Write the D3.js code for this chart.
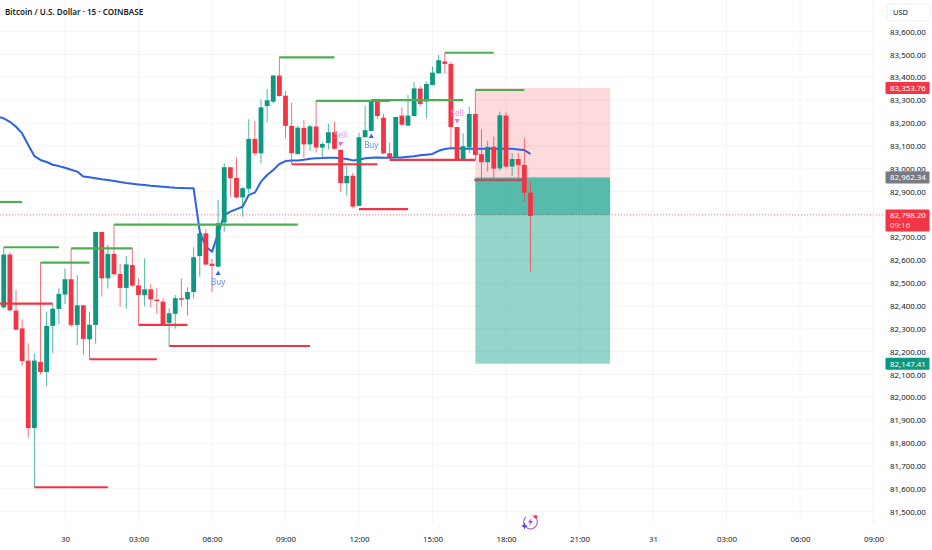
<!DOCTYPE html>
<html>
<head>
<meta charset="utf-8">
<script src="https://cdn.jsdelivr.net/npm/d3@7"></script>
<style>
  html, body { margin: 0; padding: 0; background: #fff; overflow: hidden; }
  svg { display: block; }
  text { font-family: "Noto Sans", sans-serif; fill: #131722; }
</style>
</head>
<body>
<svg id="chart"></svg>
<script>
// velas de 15 minutos, una entrada por barra (precios)
const opens = [82394,82625,82380,82302,82161,81866,82155,82111,82313,82387,82450,82517,82317,82403,82254,82317,82724,82521,82628,82540,82479,82579,82490,82447,82473,82428,82419,82326,82366,82434,82429,82461,82619,82718,82585,82572,82765,83007,82960,82875,82913,83131,83068,83275,83294,83408,83320,83188,83065,83179,83107,83185,83093,83113,83160,83083,82937,82970,82838,83138,83166,83293,83224,83068,83050,83233,83189,83231,83351,83295,83367,83418,83470,83459,83183,83039,83094,83240,83064,83029,83097,83002,83233,83010,83043,83017,82896];
const highs = [82657,82635,82470,82342,82237,82191,82590,82375,82409,82477,82563,82652,82534,82403,82374,82724,82724,82667,82756,82584,82619,82652,82520,82609,82496,82479,82434,82390,82448,82521,82482,82657,82740,82735,82606,82864,83024,83007,83049,82922,83217,83209,83304,83349,83411,83488,83341,83290,83188,83214,83192,83297,83119,83196,83206,83083,83013,82983,83158,83276,83301,83298,83240,83115,83227,83269,83323,83379,83360,83381,83447,83498,83508,83468,83183,83155,83272,83345,83173,83123,83141,83250,83246,83068,83068,83134,82944];
const lows = [82388,82375,82296,82139,81824,81607,82100,82050,82193,82321,82409,82308,82229,82187,82167,82235,82441,82476,82533,82397,82387,82485,82317,82399,82393,82365,82317,82225,82301,82397,82358,82432,82528,82581,82460,82572,82725,82878,82871,82791,82893,83058,83024,83204,83287,83316,83134,83021,83061,83046,83078,83072,83050,83085,83083,82900,82883,82827,82835,83138,83163,83217,83064,83042,83050,83188,83189,83231,83275,83221,83367,83415,83418,83090,83039,83039,83068,83039,82959,82988,82959,82992,83007,82969,82959,82856,82550];
const closes = [82625,82381,82296,82159,81866,82161,82111,82313,82388,82453,82517,82317,82403,82256,82318,82724,82521,82628,82539,82479,82582,82489,82448,82473,82429,82422,82317,82368,82434,82429,82461,82613,82718,82581,82575,82762,83007,82959,82875,82915,83131,83068,83269,83300,83408,83319,83188,83068,83180,83107,83186,83093,83109,83160,83088,82938,82969,82835,83138,83169,83297,83231,83068,83046,83227,83193,83233,83352,83284,83371,83421,83475,83459,83183,83039,83099,83240,83061,83029,83096,83001,83234,83010,83043,83017,82896,82794];

// linea azul (VWAP), parte en la barra -1
const vwap = [83228,83221,83206,83184,83155,83104,83056,83039,83030,83018,83012,83005,82996,82988,82966,82963,82959,82954,82951,82947,82942,82938,82935,82932,82929,82926,82924,82922,82919,82917,82916,82915,82915,82725,82659,82637,82718,82798,82813,82824,82834,82886,82896,82944,82973,82995,83021,83034,83036,83037,83040,83044,83046,83047,83049,83049,83046,83043,83037,83040,83046,83049,83050,83049,83049,83050,83050,83053,83055,83059,83062,83065,83079,83087,83090,83090,83088,83088,83088,83088,83088,83088,83088,83088,83088,83085,83082,83065];

// niveles horizontales: barra inicial, barra final, precio
const highLevelStart = [-2,0,6,11,18,45,51,60,72,77];
const highLevelEnd = [3,9,14,21,48,54,63,75,80,85];
const highLevelPrice = [82855,82657,82590,82652,82756,83488,83297,83301,83508,83345];
const lowLevelStart = [-2,5,14,22,27,47,58,63];
const lowLevelEnd = [8,17,25,30,50,61,66,77];
const lowLevelPrice = [82410,81607,82167,82317,82225,83020,82824,83039];

// señales
const signalBars = [35,60,55,74];
const signalTypes = ["Buy","Buy","Sell","Sell"];
const signalPrices = [82544,83144,83109,83209];

const priceTicks = [81500,81600,81700,81800,81900,82000,82100,82200,82300,82400,82500,82600,82700,82800,82900,83000,83100,83200,83300,83400,83500,83600];
// la etiqueta del precio actual tapa el 82,800
const priceLabels = priceTicks.filter(d => d != 82800);
const timeTickBars = [10,22,34,46,58,70,82,94,106,118,130,142];
const timeTickLabels = ["30","03:00","06:00","09:00","12:00","15:00","18:00","21:00","31","03:00","06:00","09:00"];

// posicion larga/corta
const positionStartBar = 77, positionEndBar = 99;
const stopPrice = 83353.76, entryPrice = 82962.34, targetPrice = 82147.41, lastPrice = 82798.20;
const stopLine = 82951;

const WIDTH = 932, HEIGHT = 550;
const VERDE = "#089981", ROJO = "#f23645";
const plotRight = 875;

const svg = d3.select("#chart").attr("width", WIDTH).attr("height", HEIGHT);

const x = d3.scaleLinear().domain([0, 142]).range([3.75, 873.5]);
const y = d3.scaleLinear().domain([81500, 83600]).range([511.7, 31.7]);

const defs = svg.append("defs");
defs.append("clipPath").attr("id", "clip")
	.append("rect").attr("width", plotRight).attr("height", 523);
defs.append("filter").attr("id", "suave")
	.append("feGaussianBlur").attr("stdDeviation", 0.35);

// grilla
const grilla = svg.append("g");
grilla.selectAll(".h").data(priceTicks).join("line")
	.attr("x1", 0).attr("x2", plotRight)
	.attr("y1", d => y(d)).attr("y2", d => y(d))
	.attr("stroke", "#f4f4f5");
grilla.selectAll(".v").data(timeTickBars).join("line")
	.attr("x1", d => x(d)).attr("x2", d => x(d))
	.attr("y1", 0).attr("y2", 523)
	.attr("stroke", "#f4f4f5");

const plot = svg.append("g").attr("clip-path", "url(#clip)")
	.append("g").attr("filter", "url(#suave)");

// caja de la posicion
const boxX = x(positionStartBar), boxW = x(positionEndBar) - boxX;
plot.append("rect").attr("x", boxX).attr("width", boxW)
	.attr("y", y(stopPrice)).attr("height", y(entryPrice) - y(stopPrice))
	.attr("fill", ROJO).attr("opacity", 0.19);
plot.append("rect").attr("x", boxX).attr("width", boxW)
	.attr("y", y(entryPrice)).attr("height", y(targetPrice) - y(entryPrice))
	.attr("fill", VERDE).attr("opacity", 0.42);
plot.append("rect").attr("x", boxX).attr("width", boxW)
	.attr("y", y(entryPrice)).attr("height", y(lastPrice) - y(entryPrice))
	.attr("fill", VERDE).attr("opacity", 0.42);

// vwap
const lineaVwap = d3.line().x((_, i) => x(i - 1)).y(d => y(d));
plot.append("path").datum(vwap)
	.attr("d", lineaVwap)
	.attr("fill", "none")
	.attr("stroke", "#2962e8")
	.attr("stroke-width", 2)
	.attr("stroke-linejoin", "round");

// velas
const velas = d3.range(closes.length);
const colorVela = i => closes[i] >= opens[i] ? VERDE : ROJO;
plot.append("g").selectAll("line").data(velas).join("line")
	.attr("x1", i => x(i)).attr("x2", i => x(i))
	.attr("y1", i => y(highs[i])).attr("y2", i => y(lows[i]))
	.attr("stroke", colorVela)
	.attr("stroke-opacity", 0.7)
	.attr("stroke-width", 1);
plot.append("g").selectAll("rect").data(velas).join("rect")
	.attr("x", i => x(i) - 2.4)
	.attr("width", 4.8)
	.attr("y", i => y(Math.max(opens[i], closes[i])))
	.attr("height", i => Math.max(1.5, Math.abs(y(opens[i]) - y(closes[i]))))
	.attr("fill", colorVela);

// niveles
plot.append("g").selectAll("line").data(highLevelPrice).join("line")
	.attr("x1", (_, i) => x(highLevelStart[i])).attr("x2", (_, i) => x(highLevelEnd[i]))
	.attr("y1", d => y(d)).attr("y2", d => y(d))
	.attr("stroke", "#4caf50").attr("stroke-width", 2.2);
plot.append("g").selectAll("line").data(lowLevelPrice).join("line")
	.attr("x1", (_, i) => x(lowLevelStart[i])).attr("x2", (_, i) => x(lowLevelEnd[i]))
	.attr("y1", d => y(d)).attr("y2", d => y(d))
	.attr("stroke", ROJO).attr("stroke-width", 2.2);
plot.append("line")
	.attr("x1", boxX - 1).attr("x2", x(positionStartBar + 8))
	.attr("y1", y(stopLine)).attr("y2", y(stopLine))
	.attr("stroke", "#b4525e").attr("stroke-width", 2.5);

// señales de compra y venta
const senales = plot.append("g").selectAll("g").data(signalBars).join("g")
	.attr("transform", (d, i) => `translate(${x(d)} ${y(signalPrices[i])})`);
senales.append("path")
	.attr("d", (_, i) => signalTypes[i] == "Buy" ? "M-2.5,2 L2.5,2 L0,-2.5 Z" : "M-2.5,-2 L2.5,-2 L0,2.5 Z")
	.attr("fill", (_, i) => signalTypes[i] == "Buy" ? "#2962ff" : "#f06ad8");
senales.append("text")
	.attr("y", (_, i) => signalTypes[i] == "Buy" ? 12 : -5.5)
	.attr("text-anchor", "middle")
	.attr("font-size", 8)
	.style("fill", (_, i) => signalTypes[i] == "Buy" ? "#5b93ee" : "#f58be3")
	.text((_, i) => signalTypes[i]);

// linea de precio actual
svg.append("line")
	.attr("x1", 0).attr("x2", 885)
	.attr("y1", y(lastPrice)).attr("y2", y(lastPrice))
	.attr("stroke", ROJO).attr("stroke-opacity", 0.6)
	.attr("stroke-dasharray", "1 2");

// separador del eje de precios
svg.append("line")
	.attr("x1", plotRight - 2).attr("x2", plotRight - 2)
	.attr("y1", 0).attr("y2", 523)
	.attr("stroke", "#f4f4f5");

// ejes
const ejePrecio = d3.axisRight(y).tickValues(priceLabels).tickFormat(d3.format(",.2f")).tickSize(0);
const contEjePrecio = svg.append("g").attr("transform", "translate(890 0)").call(ejePrecio);
contEjePrecio.select(".domain").remove();
contEjePrecio.selectAll("text")
	.attr("x", 0).attr("font-size", 7.9).attr("font-family", null);

const ejeTiempo = d3.axisBottom(x).tickValues(timeTickBars)
	.tickFormat((_, i) => timeTickLabels[i]).tickSize(0);
const contEjeTiempo = svg.append("g").attr("transform", "translate(0 536.5)").call(ejeTiempo);
contEjeTiempo.select(".domain").remove();
contEjeTiempo.selectAll("text")
	.attr("y", 0).attr("dy", "0.71em").attr("font-size", 7.9).attr("font-family", null);

// titulo
svg.append("text")
	.attr("x", 5).attr("y", 14.5)
	.attr("font-size", 8.1)
	.attr("font-weight", 600)
	.text("Bitcoin / U.S. Dollar · 15 · COINBASE");

// caja USD
svg.append("rect")
	.attr("x", 887).attr("y", 4).attr("width", 43).attr("height", 17)
	.attr("rx", 2).attr("fill", "#fff").attr("stroke", "#f0f0f2");
svg.append("text")
	.attr("x", 893).attr("y", 15).attr("font-size", 7.5).text("USD");

// etiquetas de precio
const etiquetas = [
	{ precio: stopPrice, color: ROJO, alto: 12 },
	{ precio: entryPrice, color: "#787b86", alto: 12 },
	{ precio: targetPrice, color: VERDE, alto: 12 }
];
etiquetas.forEach(e => {
	svg.append("rect")
		.attr("x", 885.5).attr("width", 44).attr("rx", 1)
		.attr("y", y(e.precio) - e.alto / 2).attr("height", e.alto)
		.attr("fill", e.color);
	svg.append("text")
		.attr("x", 890).attr("y", y(e.precio) + 2.9)
		.attr("font-size", 7.9)
		.style("fill", "#fff")
		.text(d3.format(",.2f")(e.precio));
});
svg.append("rect")
	.attr("x", 885.5).attr("width", 44).attr("rx", 1)
	.attr("y", y(lastPrice) - 5.5).attr("height", 22)
	.attr("fill", ROJO);
svg.append("text")
	.attr("x", 890).attr("y", y(lastPrice) + 3)
	.attr("font-size", 7.9)
	.style("fill", "#fff")
	.text(d3.format(",.2f")(lastPrice));
svg.append("text")
	.attr("x", 890).attr("y", y(lastPrice) + 13)
	.attr("font-size", 7.9)
	.style("fill", "#fff").style("opacity", 0.85)
	.text("09:16");

// icono del rayo
const icono = svg.append("g").attr("transform", "translate(530.5 522)");
icono.append("path")
	.attr("d", d3.arc()({ innerRadius: 6.4, outerRadius: 7.4, startAngle: -0.1, endAngle: 5.2 }))
	.attr("transform", "rotate(22)")
	.attr("fill", "#b04fd0");
icono.append("path")
	.attr("d", "M1.5,-4.5 L-2.5,0.5 L0,0.5 L-1.5,4.5 L2.5,-1 L0,-1 Z")
	.attr("fill", "#a24fd6");
icono.append("circle").attr("cx", 5.2).attr("cy", -5.2).attr("r", 1.8).attr("fill", ROJO);
icono.append("path")
	.attr("d", "M-6,0.5 L-5,3 L-2.5,4 L-5,5 L-6,7.5 L-7,5 L-9.5,4 L-7,3 Z")
	.attr("fill", "#5b3fd8");
</script>
</body>
</html>
